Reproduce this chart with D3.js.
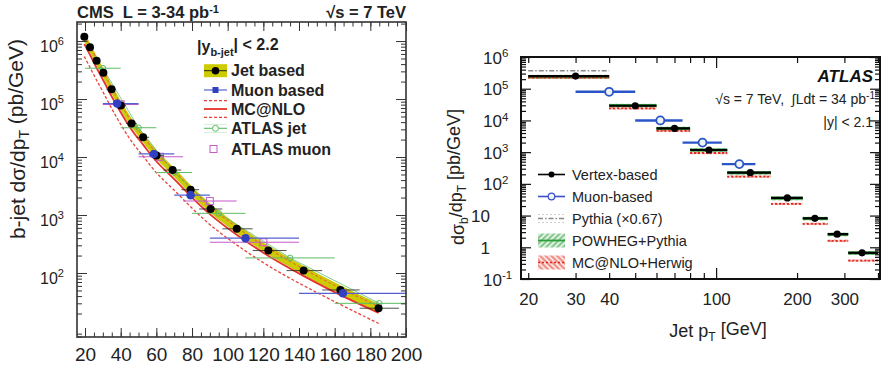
<!DOCTYPE html>
<html>
<head>
<meta charset="utf-8">
<script src="https://cdn.jsdelivr.net/npm/d3@7"></script>
<style>
body { margin: 0; background: #fff; }
svg { font-family: "Liberation Sans", Arial, Helvetica, sans-serif; }
</style>
</head>
<body>
<svg id="chart" width="885" height="370"></svg>
<script>
// ---------- left panel (CMS) ----------
var cmsPt     = [19.6, 22.8, 26.5, 30.3, 34.9, 40.1, 46.1, 52.6, 60.1, 69.1, 79.2, 90.4, 105.1, 122.8, 142.6, 163.2, 184.6];
var cmsLo     = [18, 21, 24, 28, 32, 37, 43, 49, 56, 64, 74, 84, 97, 114, 133, 153, 174];
var cmsHi     = [21, 24, 28, 32, 37, 43, 49, 56, 64, 74, 84, 97, 114, 133, 153, 174, 196];
var cmsJet    = [1.19e6, 7.8e5, 4.56e5, 2.84e5, 1.47e5, 7.7e4, 3.8e4, 2.19e4, 1.06e4, 5.97e3, 2.73e3, 1.27e3, 578, 244, 110, 51, 24.7];
var cmsBandHi = [1.38e6, 9.0e5, 5.3e5, 3.3e5, 1.7e5, 8.9e4, 4.4e4, 2.53e4, 1.23e4, 6.95e3, 3.17e3, 1480, 675, 285, 129, 59.5, 29];
var cmsBandLo = [1.01e6, 6.6e5, 3.85e5, 2.4e5, 1.25e5, 6.5e4, 3.2e4, 1.85e4, 8.9e3, 5.05e3, 2.3e3, 1070, 488, 206, 93, 43, 20.8];
var mcnlo     = [8.9e5, 5.8e5, 3.4e5, 2.1e5, 1.1e5, 5.8e4, 2.85e4, 1.65e4, 8.0e3, 4.5e3, 2.1e3, 980, 450, 192, 88, 41, 20.5];
var mcnloUp   = [1.25e6, 8.2e5, 4.8e5, 3.0e5, 1.55e5, 8.1e4, 4.0e4, 2.3e4, 1.12e4, 6.3e3, 2.9e3, 1340, 610, 258, 116, 54, 26.5];
var mcnloDn   = [5.4e5, 3.5e5, 2.1e5, 1.3e5, 6.8e4, 3.6e4, 1.8e4, 1.05e4, 5.1e3, 2.9e3, 1.37e3, 650, 300, 130, 60, 28.5, 13.5];

var cmsMuPt  = [38, 58.6, 79.2, 110, 164.6];
var cmsMuLo  = [30, 50, 70, 90, 140];
var cmsMuHi  = [50, 70, 90, 140, 210];
var cmsMu    = [8.36e4, 1.13e4, 2.2e3, 398, 44.7];

var atlJetPt = [30, 50, 70, 95, 135, 185];
var atlJetLo = [20, 40, 60, 80, 110, 160];
var atlJetHi = [40, 60, 80, 110, 160, 210];
var atlJet   = [3.4e5, 3.2e4, 5.4e3, 1.07e3, 182, 30];

var atlMuPt  = [40, 62, 90, 120];
var atlMuLo  = [30, 50, 75, 90];
var atlMuHi  = [50, 75, 105, 140];
var atlMu    = [8.1e4, 1.01e4, 1.74e3, 339];

var cmsXTicks = [20, 40, 60, 80, 100, 120, 140, 160, 180, 200];
var cmsYTicks = [1e2, 1e3, 1e4, 1e5, 1e6];
var cmsYExp   = ["2", "3", "4", "5", "6"];

// ---------- right panel (ATLAS) ----------
var binLo     = [20, 40, 60, 80, 110, 160, 210, 260, 310];
var binHi     = [40, 60, 80, 110, 160, 210, 260, 310, 400];
var vtxPt     = [30, 50, 70, 94, 134, 184, 233, 282, 349];
var vertex    = [2.5e5, 2.9e4, 5.6e3, 1.17e3, 225, 36, 8.2, 2.6, 0.67];
var powheg    = [2.4e5, 2.95e4, 5.6e3, 1.17e3, 225, 35, 8.1, 2.55, 0.66];
var powhegLo  = [2.1e5, 2.55e4, 4.85e3, 1010, 195, 30, 7.0, 2.2, 0.57];
var powhegHi  = [2.75e5, 3.35e4, 6.4e3, 1330, 255, 40, 9.2, 2.9, 0.75];
var mcHerwig  = [2.25e5, 2.4e4, 4.7e3, 940, 170, 23.5, 5.5, 1.6, 0.38];
var mcHerLo   = [2.05e5, 2.2e4, 4.3e3, 860, 156, 21.5, 5.0, 1.46, 0.35];
var mcHerHi   = [2.45e5, 2.6e4, 5.1e3, 1020, 184, 25.5, 6.0, 1.74, 0.41];

var pyLo = [20], pyHi = [40], pythia = [3.7e5];

var muLo  = [30, 50, 75, 105];
var muHi  = [50, 75, 105, 140];
var muPt  = [40, 62, 89, 122];
var muVal = [8.0e4, 1.0e4, 2.0e3, 420];

var atlXTicks  = [20, 30, 40, 50, 60, 70, 80, 90, 100, 200, 300, 400];
var atlXLabels = [20, 30, 40, 100, 200, 300];
var atlYTicks  = [0.1, 1, 10, 100, 1e3, 1e4, 1e5, 1e6];
var atlYBase   = ["10", "1", "10", "10", "10", "10", "10", "10"];
var atlYExp    = ["-1", null, null, "2", "3", "4", "5", "6"];

var svg = d3.select("#chart");
var defs = svg.append("defs");

function hatch(id, color, angle) {
    var p = defs.append("pattern").attr("id", id).attr("width", 4).attr("height", 4)
        .attr("patternUnits", "userSpaceOnUse").attr("patternTransform", "rotate(" + angle + ")");
    p.append("rect").attr("width", 4).attr("height", 4).style("fill", color).style("opacity", 0.15);
    p.append("line").attr("x1", 1).attr("y1", 0).attr("x2", 1).attr("y2", 4).style("stroke", color).style("stroke-width", 1);
}
hatch("hatchG", "#2e9e3a", 45);
hatch("hatchR", "#e33a2c", -45);

defs.append("clipPath").attr("id", "clipL").append("rect").attr("x", 77).attr("y", 22).attr("width", 329).attr("height", 315);
defs.append("clipPath").attr("id", "clipR").append("rect").attr("x", 521).attr("y", 57).attr("width", 359).attr("height", 222);

function bars(g, lo, hi, val, x, y, color, width) {
    g.selectAll(null).data(val).enter().append("line")
        .attr("x1", function (d, i) { return x(lo[i]); })
        .attr("x2", function (d, i) { return x(hi[i]); })
        .attr("y1", function (d) { return y(d); })
        .attr("y2", function (d) { return y(d); })
        .style("stroke", color).style("stroke-width", width);
}

function minorLog(lo, hi) {
    var out = [];
    for (var e = Math.floor(Math.log10(lo)); e <= Math.ceil(Math.log10(hi)); e++) {
        for (var m = 2; m < 10; m++) {
            var v = m * Math.pow(10, e);
            if (v >= lo && v <= hi) out.push(v);
        }
    }
    return out;
}

// =============== LEFT PANEL ===============
var xL = d3.scaleLinear().domain([15.5, 200]).range([77, 406]);
var yL = d3.scaleLog().domain([7.88, 2.13e6]).range([337, 22]);
var gL = svg.append("g");
var plotL = gL.append("g").attr("clip-path", "url(#clipL)");

var bandRows = cmsPt.map(function (p, i) { return { pt: p, lo: cmsBandLo[i], hi: cmsBandHi[i] }; });
plotL.append("path").datum(bandRows)
    .attr("d", d3.area().curve(d3.curveBasis)
        .x(function (d) { return xL(d.pt); })
        .y0(function (d) { return yL(d.lo); })
        .y1(function (d) { return yL(d.hi); }))
    .style("fill", "#cccc00").style("stroke", "#b8b800").style("stroke-width", 0.6);

function curveL(vals, color, dash, w) {
    plotL.append("path").datum(vals)
        .attr("d", d3.line().curve(d3.curveBasis)
            .x(function (d, i) { return xL(cmsPt[i]); })
            .y(function (d) { return yL(d); }))
        .style("fill", "none").style("stroke", color).style("stroke-width", w)
        .style("stroke-dasharray", dash);
}
curveL(mcnloDn, "#e8413a", "3,2", 1.3);
curveL(mcnloUp, "#e9733a", "3,2", 1.2);
curveL(mcnlo, "#e5322a", null, 1.8);

// ATLAS jet (green)
plotL.append("path").datum(atlJet)
    .attr("d", d3.line().x(function (d, i) { return xL(atlJetPt[i]); }).y(function (d) { return yL(d); }))
    .style("fill", "none").style("stroke", "#62c06a").style("stroke-width", 0.8);
bars(plotL, atlJetLo, atlJetHi, atlJet, xL, yL, "#5cbc64", 1);
plotL.selectAll(null).data(atlJet).enter().append("circle")
    .attr("cx", function (d, i) { return xL(atlJetPt[i]); }).attr("cy", function (d) { return yL(d); })
    .attr("r", 2.8).style("fill", "none").style("stroke", "#5cbc64").style("stroke-width", 1);

// ATLAS muon (magenta)
bars(plotL, atlMuLo, atlMuHi, atlMu, xL, yL, "#c55bc8", 1.1);
plotL.selectAll(null).data(atlMu).enter().append("rect")
    .attr("x", function (d, i) { return xL(atlMuPt[i]) - 3.5; }).attr("y", function (d) { return yL(d) - 3.5; })
    .attr("width", 7).attr("height", 7).style("fill", "none").style("stroke", "#c55bc8").style("stroke-width", 1);

// CMS muon (blue)
bars(plotL, cmsMuLo, cmsMuHi, cmsMu, xL, yL, "#5560d0", 1.3);

// CMS jet points
bars(plotL, cmsLo, cmsHi, cmsJet, xL, yL, "#222", 0.8);
plotL.selectAll(null).data(cmsJet).enter().append("circle")
    .attr("cx", function (d, i) { return xL(cmsPt[i]); }).attr("cy", function (d) { return yL(d); })
    .attr("r", 4).style("fill", "#000");

plotL.selectAll(null).data(cmsMu).enter().append("circle")
    .attr("cx", function (d, i) { return xL(cmsMuPt[i]); }).attr("cy", function (d) { return yL(d); })
    .attr("r", 4.3).style("fill", "#3140c0");

// axes left
var axColL = "#333";
var gxL = gL.append("g").attr("transform", "translate(0,337)").style("color", axColL)
    .call(d3.axisBottom(xL).tickValues(cmsXTicks).tickSizeInner(-9).tickSizeOuter(0));
gxL.selectAll(".tick text").attr("y", 24).attr("dy", null).style("font-size", "19px").style("fill", "#222");
gL.append("g").attr("transform", "translate(0,337)").style("color", axColL)
    .call(d3.axisBottom(xL).tickValues(d3.range(20, 200, 5)).tickSizeInner(-4.5).tickSizeOuter(0).tickFormat(""));
gL.append("g").attr("transform", "translate(0,22)").style("color", axColL)
    .call(d3.axisTop(xL).tickValues(cmsXTicks).tickSizeInner(-9).tickSizeOuter(0).tickFormat(""));
gL.append("g").attr("transform", "translate(0,22)").style("color", axColL)
    .call(d3.axisTop(xL).tickValues(d3.range(20, 200, 5)).tickSizeInner(-4.5).tickSizeOuter(0).tickFormat(""));

var gyL = gL.append("g").attr("transform", "translate(77,0)").style("color", axColL)
    .call(d3.axisLeft(yL).tickValues(cmsYTicks).tickSizeInner(-10).tickSizeOuter(0).tickFormat(""));
gyL.selectAll(".tick text").attr("x", -37).attr("y", 10).attr("dy", null).attr("text-anchor", "start")
    .style("font-size", "16px").style("fill", "#222")
    .each(function (d, i) {
        var t = d3.select(this);
        t.append("tspan").text("10");
        t.append("tspan").attr("dy", "-0.55em").style("font-size", "11px").text(cmsYExp[i]);
    });
gL.append("g").attr("transform", "translate(77,0)").style("color", axColL)
    .call(d3.axisLeft(yL).tickValues(minorLog(8, 2.1e6)).tickSizeInner(-5).tickSizeOuter(0).tickFormat(""));
gL.append("g").attr("transform", "translate(406,0)").style("color", axColL)
    .call(d3.axisRight(yL).tickValues(cmsYTicks).tickSizeInner(-10).tickSizeOuter(0).tickFormat(""));
gL.append("g").attr("transform", "translate(406,0)").style("color", axColL)
    .call(d3.axisRight(yL).tickValues(minorLog(8, 2.1e6)).tickSizeInner(-5).tickSizeOuter(0).tickFormat(""));
gL.selectAll(".domain").remove();
gL.append("rect").attr("x", 77).attr("y", 22).attr("width", 329).attr("height", 315)
    .style("fill", "none").style("stroke", axColL).style("stroke-width", 1.6);

// header & title left
var h1 = gL.append("text").attr("x", 77).attr("y", 18).style("font-size", "16.5px").style("font-weight", "bold").style("fill", "#222");
h1.append("tspan").text("CMS\u00A0\u00A0L = 3-34 pb");
h1.append("tspan").attr("dy", "-0.5em").style("font-size", "11px").text("-1");
var h2 = gL.append("text").attr("x", 406).attr("y", 18).attr("text-anchor", "end").style("font-size", "16.5px").style("font-weight", "bold").style("fill", "#222");
h2.append("tspan").text("\u221As = 7 TeV");

var tl = gL.append("text").attr("transform", "translate(25,139) rotate(-90)").attr("text-anchor", "middle")
    .style("font-size", "21px").style("fill", "#222");
tl.append("tspan").text("b-jet d\u03C3/dp");
tl.append("tspan").attr("dy", "0.3em").style("font-size", "14px").text("T");
tl.append("tspan").attr("dy", "-0.3em").text(" (pb/GeV)");

// legend left
var lg = gL.append("g").style("font-size", "16px").style("font-weight", "bold").style("fill", "#222");
var lh = lg.append("text").attr("x", 197).attr("y", 52);
lh.append("tspan").text("|y");
lh.append("tspan").attr("dy", "0.35em").style("font-size", "11px").text("b-jet");
lh.append("tspan").attr("dy", "-0.35em").text("| < 2.2");

var legL = ["Jet based", "Muon based", "MC@NLO", "ATLAS jet", "ATLAS muon"];
var legLY = [70.7, 90, 109, 128.3, 149];
lg.selectAll(null).data(legL).enter().append("text")
    .attr("x", 231).attr("y", function (d, i) { return legLY[i] + 5.5; }).text(function (d) { return d; });
lg.append("rect").attr("x", 204).attr("y", legLY[0] - 6.5).attr("width", 23).attr("height", 13).style("fill", "#cccc00");
lg.append("line").attr("x1", 204).attr("x2", 227).attr("y1", legLY[0]).attr("y2", legLY[0]).style("stroke", "#222").style("stroke-width", 1);
lg.append("circle").attr("cx", 215.5).attr("cy", legLY[0]).attr("r", 3.8).style("fill", "#000");
lg.append("line").attr("x1", 204).attr("x2", 227).attr("y1", legLY[1]).attr("y2", legLY[1]).style("stroke", "#5560d0").style("stroke-width", 1.2);
lg.append("rect").attr("x", 212.5).attr("y", legLY[1] - 3).attr("width", 6).attr("height", 6).style("fill", "#3140c0");
lg.append("line").attr("x1", 204).attr("x2", 227).attr("y1", legLY[2] - 8.3).attr("y2", legLY[2] - 8.3).style("stroke", "#e8413a").style("stroke-width", 1.3).style("stroke-dasharray", "3,2");
lg.append("line").attr("x1", 204).attr("x2", 227).attr("y1", legLY[2]).attr("y2", legLY[2]).style("stroke", "#e5322a").style("stroke-width", 1.8);
lg.append("line").attr("x1", 204).attr("x2", 227).attr("y1", legLY[2] + 8.3).attr("y2", legLY[2] + 8.3).style("stroke", "#e8413a").style("stroke-width", 1.3).style("stroke-dasharray", "3,2");
[-4, 0, 4].forEach(function (o) {
    lg.append("line").attr("x1", 204).attr("x2", 227).attr("y1", legLY[3] + o).attr("y2", legLY[3] + o)
        .style("stroke", "#5cbc64").style("stroke-width", o === 0 ? 1.1 : 0.5).style("opacity", o === 0 ? 1 : 0.6);
});
lg.append("circle").attr("cx", 215.5).attr("cy", legLY[3]).attr("r", 3).style("fill", "#fff").style("stroke", "#5cbc64");
lg.append("rect").attr("x", 210).attr("y", legLY[4] - 3.5).attr("width", 7).attr("height", 7).style("fill", "none").style("stroke", "#c55bc8");

// =============== RIGHT PANEL ===============
var xR = d3.scaleLog().domain([18.8, 407]).range([521, 880]);
var yR = d3.scaleLog().domain([0.1, 1e6]).range([279, 57]);
var gR = svg.append("g");
var plotR = gR.append("g").attr("clip-path", "url(#clipR)");

function hatchBand(lo, hi, fillId) {
    plotR.selectAll(null).data(lo).enter().append("rect")
        .attr("x", function (d, i) { return xR(binLo[i]); })
        .attr("width", function (d, i) { return xR(binHi[i]) - xR(binLo[i]); })
        .attr("y", function (d, i) { return yR(hi[i]); })
        .attr("height", function (d, i) { return yR(lo[i]) - yR(hi[i]); })
        .style("fill", "url(#" + fillId + ")");
}
hatchBand(powhegLo, powhegHi, "hatchG");
hatchBand(mcHerLo, mcHerHi, "hatchR");
bars(plotR, binLo, binHi, powheg, xR, yR, "#2e9e3a", 3);
plotR.selectAll(null).data(mcHerwig).enter().append("line")
    .attr("x1", function (d, i) { return xR(binLo[i]); }).attr("x2", function (d, i) { return xR(binHi[i]); })
    .attr("y1", function (d) { return yR(d); }).attr("y2", function (d) { return yR(d); })
    .style("stroke", "#e3261c").style("stroke-width", 1.8).style("stroke-dasharray", "2,2");
plotR.selectAll(null).data(pythia).enter().append("line")
    .attr("x1", function (d, i) { return xR(pyLo[i]); }).attr("x2", function (d, i) { return xR(pyHi[i]); })
    .attr("y1", function (d) { return yR(d); }).attr("y2", function (d) { return yR(d); })
    .style("stroke", "#888").style("stroke-width", 1.4).style("stroke-dasharray", "5,2,1.5,2");

bars(plotR, binLo, binHi, vertex, xR, yR, "#000", 2.2);
plotR.selectAll(null).data(vertex).enter().append("circle")
    .attr("cx", function (d, i) { return xR(vtxPt[i]); }).attr("cy", function (d) { return yR(d); })
    .attr("r", 3.6).style("fill", "#000");

bars(plotR, muLo, muHi, muVal, xR, yR, "#2a55c8", 2.4);
plotR.selectAll(null).data(muVal).enter().append("circle")
    .attr("cx", function (d, i) { return xR(muPt[i]); }).attr("cy", function (d) { return yR(d); })
    .attr("r", 4).style("fill", "#eef4ee").style("stroke", "#2a55c8").style("stroke-width", 1.8);

// axes right
var axColR = "#111";
var gxR = gR.append("g").attr("transform", "translate(0,279)").style("color", axColR)
    .call(d3.axisBottom(xR).tickValues(atlXTicks).tickSizeInner(-6).tickSizeOuter(0)
        .tickFormat(function (d) { return atlXLabels.indexOf(d) >= 0 ? d : ""; }));
gxR.selectAll(".tick text").attr("y", 26).attr("dy", null).style("font-size", "17px").style("fill", "#222");
gxR.selectAll(".tick line").filter(function (d) { return d === 100; }).attr("y2", -11);
var gxR2 = gR.append("g").attr("transform", "translate(0,57)").style("color", axColR)
    .call(d3.axisTop(xR).tickValues(atlXTicks).tickSizeInner(-6).tickSizeOuter(0).tickFormat(""));
gxR2.selectAll(".tick line").filter(function (d) { return d === 100; }).attr("y2", 11);

var gyR = gR.append("g").attr("transform", "translate(521,0)").style("color", axColR)
    .call(d3.axisLeft(yR).tickValues(atlYTicks).tickSizeInner(-10).tickSizeOuter(0).tickFormat(""));
gyR.selectAll(".tick text").attr("y", 6).attr("dy", null).style("font-size", "17px").style("fill", "#222")
    .each(function (d, i) {
        var t = d3.select(this);
        if (atlYExp[i] === null) {
            t.attr("x", -31).attr("text-anchor", "end").text(atlYBase[i]);
        } else {
            t.attr("x", -38).attr("text-anchor", "start");
            t.append("tspan").text(atlYBase[i]);
            t.append("tspan").attr("dy", "-0.55em").style("font-size", "11.5px").text(atlYExp[i]);
        }
    });
gR.append("g").attr("transform", "translate(521,0)").style("color", axColR)
    .call(d3.axisLeft(yR).tickValues(minorLog(0.1, 1e6)).tickSizeInner(-5).tickSizeOuter(0).tickFormat(""));
gR.append("g").attr("transform", "translate(880,0)").style("color", axColR)
    .call(d3.axisRight(yR).tickValues(atlYTicks).tickSizeInner(-10).tickSizeOuter(0).tickFormat(""));
gR.append("g").attr("transform", "translate(880,0)").style("color", axColR)
    .call(d3.axisRight(yR).tickValues(minorLog(0.1, 1e6)).tickSizeInner(-5).tickSizeOuter(0).tickFormat(""));
gR.selectAll(".domain").remove();
gR.selectAll(".tick line").style("stroke-width", 1.2);
gR.append("rect").attr("x", 521).attr("y", 57).attr("width", 359).attr("height", 222)
    .style("fill", "none").style("stroke", axColR).style("stroke-width", 2);

// titles right
var xt = gR.append("text").attr("x", 718).attr("y", 337).attr("text-anchor", "middle").style("font-size", "18px").style("fill", "#222");
xt.append("tspan").text("Jet p");
xt.append("tspan").attr("dy", "0.35em").style("font-size", "12px").text("T");
xt.append("tspan").attr("dy", "-0.35em").text(" [GeV]");

var yt = gR.append("text").attr("transform", "translate(464,177) rotate(-90)").attr("text-anchor", "middle")
    .style("font-size", "18px").style("fill", "#222");
yt.append("tspan").text("d\u03C3");
yt.append("tspan").attr("dy", "0.35em").style("font-size", "12px").text("b");
yt.append("tspan").attr("dy", "-0.35em").text("/dp");
yt.append("tspan").attr("dy", "0.35em").style("font-size", "12px").text("T");
yt.append("tspan").attr("dy", "-0.35em").text(" [pb/GeV]");

gR.append("text").attr("x", 873).attr("y", 82).attr("text-anchor", "end")
    .style("font-size", "17px").style("font-weight", "bold").style("font-style", "italic").style("fill", "#111").text("ATLAS");
var en = gR.append("text").attr("x", 875).attr("y", 104).attr("text-anchor", "end").style("font-size", "14px").style("fill", "#222");
en.append("tspan").text("\u221As = 7 TeV,\u00A0\u00A0\u222BLdt = 34 pb");
en.append("tspan").attr("dy", "-0.5em").style("font-size", "10px").text("-1");
gR.append("text").attr("x", 873).attr("y", 127).attr("text-anchor", "end").style("font-size", "14px").style("fill", "#222").text("|y| < 2.1");

// legend right
var legR = ["Vertex-based", "Muon-based", "Pythia (\u00D70.67)", "POWHEG+Pythia", "MC@NLO+Herwig"];
var legRY = [174.5, 196.5, 218.5, 240.5, 262.5];
var lgR = gR.append("g").style("font-size", "14.5px").style("fill", "#222");
lgR.selectAll(null).data(legR).enter().append("text")
    .attr("x", 572).attr("y", function (d, i) { return legRY[i] + 5; }).text(function (d) { return d; });
lgR.append("line").attr("x1", 538).attr("x2", 565).attr("y1", legRY[0]).attr("y2", legRY[0]).style("stroke", "#000").style("stroke-width", 1.6);
lgR.append("circle").attr("cx", 551.5).attr("cy", legRY[0]).attr("r", 3).style("fill", "#000");
lgR.append("line").attr("x1", 538).attr("x2", 565).attr("y1", legRY[1]).attr("y2", legRY[1]).style("stroke", "#3a4fc8").style("stroke-width", 1.6);
lgR.append("circle").attr("cx", 551.5).attr("cy", legRY[1]).attr("r", 3.3).style("fill", "#eef4ee").style("stroke", "#3a4fc8").style("stroke-width", 1.2);
lgR.append("line").attr("x1", 538).attr("x2", 565).attr("y1", legRY[2]).attr("y2", legRY[2]).style("stroke", "#888").style("stroke-width", 1.3).style("stroke-dasharray", "5,2,1.5,2");
lgR.append("line").attr("x1", 538).attr("x2", 565).attr("y1", legRY[2] - 4).attr("y2", legRY[2] - 4).style("stroke", "#bbb").style("stroke-width", 0.7).style("stroke-dasharray", "2,2");
lgR.append("line").attr("x1", 538).attr("x2", 565).attr("y1", legRY[2] + 4).attr("y2", legRY[2] + 4).style("stroke", "#bbb").style("stroke-width", 0.7).style("stroke-dasharray", "2,2");
lgR.append("rect").attr("x", 538).attr("y", legRY[3] - 7).attr("width", 27).attr("height", 14).style("fill", "url(#hatchG)");
lgR.append("line").attr("x1", 538).attr("x2", 565).attr("y1", legRY[3]).attr("y2", legRY[3]).style("stroke", "#2e9e3a").style("stroke-width", 1.8);
lgR.append("rect").attr("x", 538).attr("y", legRY[4] - 7).attr("width", 27).attr("height", 14).style("fill", "url(#hatchR)");
lgR.append("line").attr("x1", 538).attr("x2", 565).attr("y1", legRY[4]).attr("y2", legRY[4]).style("stroke", "#e3261c").style("stroke-width", 1.5).style("stroke-dasharray", "2,2");
</script>
</body>
</html>
